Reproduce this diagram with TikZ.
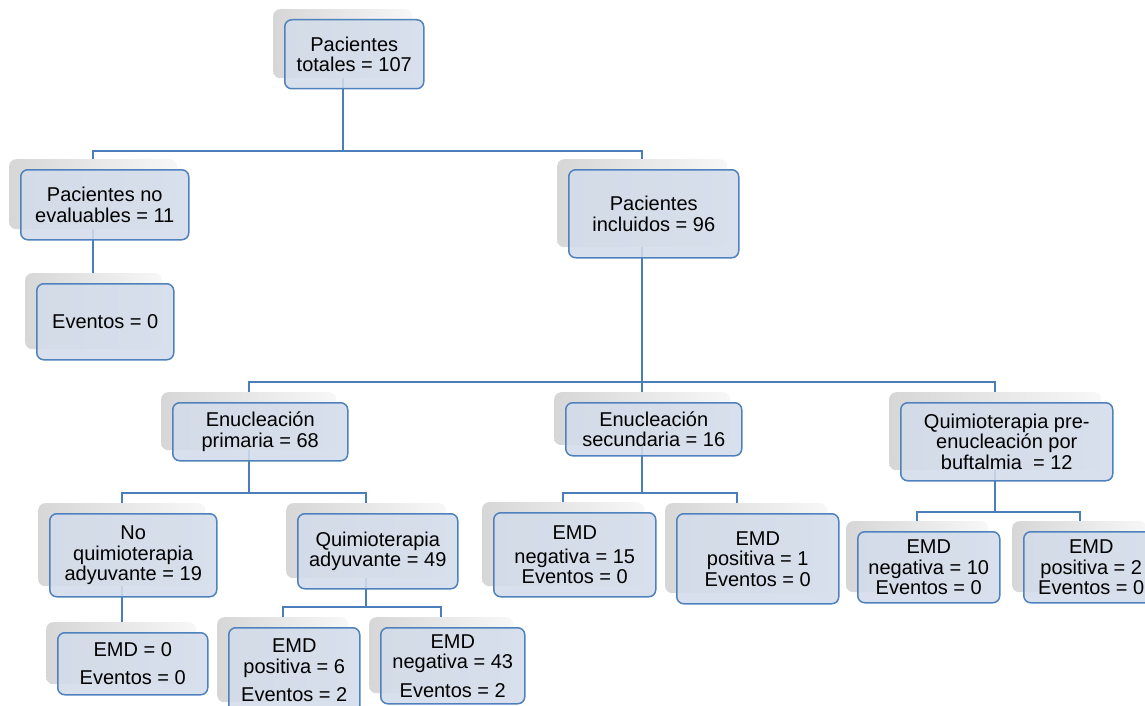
\documentclass[tikz,border=0pt]{standalone}
\usepackage{fontspec}
\setmainfont{Liberation Sans}
\definecolor{bord}{RGB}{79,129,189}
\definecolor{boxfill}{RGB}{211,220,234}
\definecolor{linec}{RGB}{74,126,187}
\tikzset{
  shbox/.style={rounded corners=7pt, left color=gray!32, middle color=gray!12, right color=gray!6, draw=none, inner sep=0pt, anchor=north west},
  mainbox/.style={rounded corners=7pt, draw=bord, line width=1.5pt, fill=boxfill, fill opacity=0.88, text opacity=1, inner sep=0pt, anchor=north west, align=center, font=\fontsize{20}{20.5}\selectfont},
  conn/.style={draw=linec, line width=2pt}
}
% shadow box: name, x1, y1, x2, y2
\newcommand\shb[5]{\node[shbox, minimum width={#4pt-#2pt}, minimum height={#5pt-#3pt}] (#1s) at (#2-11,#3-10) {};}
% main box: name, x1, y1, x2, y2, text
\newcommand\mnb[6]{\node[mainbox, minimum width={#4pt-#2pt}, minimum height={#5pt-#3pt}] (#1) at (#2,#3) {#6};}
\begin{document}
\begin{tikzpicture}[x=1pt,y=-1pt]
\useasboundingbox (0,0) rectangle (1145,706);
\clip (0,0) rectangle (1145,706);
% shadows
\shb{A}{284}{19}{423}{88}
\shb{B}{20}{169}{188}{239}
\shb{C}{36}{283}{173}{359}
\shb{D}{568}{169}{738}{257}
\shb{E}{172}{402}{347}{460}
\shb{F}{565}{402}{741}{455}
\shb{G}{900}{402}{1112}{480}
\shb{H}{49}{513}{216}{596}
\shb{I}{297}{513}{457}{588}
\shb{J}{57}{632}{207}{694}
\shb{K}{228}{627}{359}{712}
\shb{L}{380}{627}{524}{703}
\shb{M}{493}{512}{655}{596}
\shb{N}{676}{513}{838}{603}
\shb{O}{857}{531}{999}{602}
\shb{P}{1023}{531}{1158}{602}
% rails
\coordinate (r1) at (0,151);
\coordinate (r2) at (0,382);
\coordinate (r3) at (0,493);
\coordinate (r4) at (0,607);
\coordinate (r5) at (0,512);
\coordinate (nN) at ([xshift=72pt]Ns.north west);
% connectors
\draw[conn] (As.south) -- (As.south |- r1);
\draw[conn] (Bs.north) |- (Ds.north |- r1) -- (Ds.north);
\draw[conn] (Bs.south) -- (Bs.south |- Cs.north);
\draw[conn] (Ds.south) -- (Ds.south |- r2);
\draw[conn] (Es.north) |- (Gs.north |- r2) -- (Gs.north);
\draw[conn] (Fs.north) -- (Fs.north |- r2);
\draw[conn] (Es.south) -- (Es.south |- r3);
\draw[conn] (Hs.north) |- (Is.north |- r3) -- (Is.north);
\draw[conn] (Hs.south) -- (Hs.south |- Js.north);
\draw[conn] (Is.south) -- (Is.south |- r4);
\draw[conn] (Ks.north) |- (Ls.north |- r4) -- (Ls.north);
\draw[conn] (Fs.south) -- (Fs.south |- r3);
\draw[conn] (Ms.north) |- (nN |- r3) -- (nN);
\draw[conn] (Gs.south) -- (Gs.south |- r5);
\draw[conn] (Os.north) |- (Ps.north |- r5) -- (Ps.north);
% main boxes
\mnb{A}{284}{19}{423}{88}{Pacientes\\totales = 107}
\mnb{B}{20}{169}{188}{239}{Pacientes no\\evaluables = 11}
\mnb{C}{36}{283}{173}{359}{Eventos = 0}
\mnb{D}{568}{169}{738}{257}{Pacientes\\incluidos = 96}
\mnb{E}{172}{402}{347}{460}{Enucleación\\primaria = 68}
\mnb{F}{565}{402}{741}{455}{Enucleación\\secundaria = 16}
\mnb{G}{900}{402}{1112}{480}{Quimioterapia pre-\\enucleación por\\buftalmia\ \ = 12}
\mnb{H}{49}{513}{216}{596}{No\\quimioterapia\\adyuvante = 19}
\mnb{I}{297}{513}{457}{588}{Quimioterapia\\adyuvante = 49}
\mnb{J}{57}{632}{207}{694}{EMD = 0\\[8pt]Eventos = 0}
\mnb{K}{228}{627}{359}{712}{EMD\\positiva = 6\\[8pt]Eventos = 2}
\mnb{L}{380}{627}{524}{703}{EMD\\negativa = 43\\[8pt]Eventos = 2}
\mnb{M}{493}{512}{655}{596}{EMD\\[3pt]negativa = 15\\Eventos = 0}
\mnb{N}{676}{513}{838}{603}{EMD\\positiva = 1\\Eventos = 0}
\mnb{O}{857}{531}{999}{602}{EMD\\negativa = 10\\Eventos = 0}
\mnb{P}{1023}{531}{1158}{602}{EMD\\positiva = 2\\Eventos = 0}
\end{tikzpicture}
\end{document}
